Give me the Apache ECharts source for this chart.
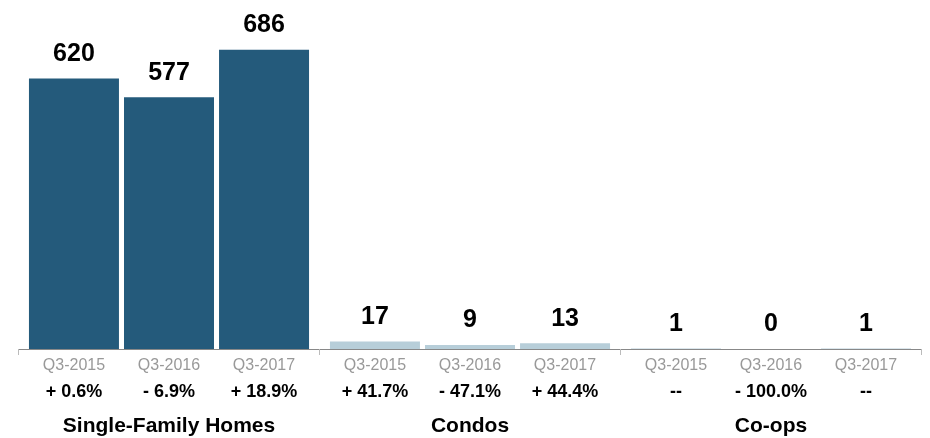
<!DOCTYPE html>
<html>
<head>
<meta charset="utf-8">
<script src="https://cdn.jsdelivr.net/npm/echarts@6/dist/echarts.min.js"></script>
<style>html,body{margin:0;padding:0;background:#fff}#c{width:930px;height:438px}</style>
</head>
<body>
<div id="c"></div>
<script>
var groups = ['Single-Family Homes', 'Condos', 'Co-ops'];
var periods = ['Q3-2015', 'Q3-2016', 'Q3-2017'];
var singleFamily = [620, 577, 686];
var condos = [17, 9, 13];
var coops = [1, 0, 1];
var changeSingleFamily = ['+ 0.6%', '- 6.9%', '+ 18.9%'];
var changeCondos = ['+ 41.7%', '- 47.1%', '+ 44.4%'];
var changeCoops = ['--', '- 100.0%', '--'];

var groupValues = [singleFamily, condos, coops];
var groupChanges = [changeSingleFamily, changeCondos, changeCoops];
var groupColors = ['#245a7b', '#b7ced9', '#b7ced9'];
var FONT = '"Liberation Sans", Arial, Helvetica, sans-serif';

var series = periods.map(function (p, pi) {
  return {
    type: 'bar',
    name: p,
    barWidth: 90,
    barGap: '5.6%',
    data: groups.map(function (g, gi) {
      return { value: groupValues[gi][pi], itemStyle: { color: groupColors[gi] } };
    }),
    label: {
      show: true,
      position: 'top',
      distance: 12,
      color: '#000',
      fontWeight: 'bold',
      fontSize: 25,
      fontFamily: FONT
    }
  };
});

var chart = echarts.init(document.getElementById('c'));
chart.setOption({
  animation: false,
  grid: { left: 18.5, right: 8.5, top: 0, bottom: 89 },
  xAxis: {
    type: 'category',
    data: groups,
    axisLine: { lineStyle: { color: '#888', width: 1 } },
    axisTick: { show: true, length: 6, lineStyle: { color: '#bbb' } },
    axisLabel: {
      interval: 0,
      margin: 7,
      fontFamily: FONT,
      formatter: function (val, idx) {
        var r1 = periods.map(function (p) { return '{q|' + p + '}'; }).join('');
        var r2 = groupChanges[idx].map(function (c) { return '{p|' + c + '}'; }).join('');
        return r1 + '\n' + r2 + '\n{g|' + val + '}';
      },
      rich: {
        q: { width: 95, align: 'center', fontSize: 16, color: '#999', lineHeight: 20, fontFamily: FONT },
        p: { width: 95, align: 'center', fontSize: 18, fontWeight: 'bold', color: '#000', lineHeight: 33, fontFamily: FONT },
        g: { fontSize: 21, fontWeight: 'bold', color: '#000', lineHeight: 34, fontFamily: FONT }
      }
    }
  },
  yAxis: {
    type: 'value',
    min: 0,
    max: 800,
    show: false,
    splitLine: { show: false }
  },
  series: series
});
</script>
</body>
</html>
